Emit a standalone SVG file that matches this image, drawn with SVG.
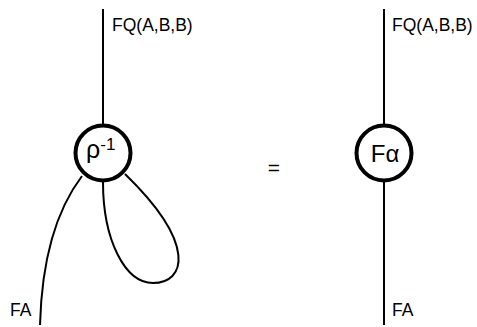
<svg xmlns="http://www.w3.org/2000/svg" width="477" height="327" viewBox="0 0 477 327">
<style>
.w{fill:none;stroke:#000;stroke-width:2}
.n{fill:#fff;stroke:#000;stroke-width:4}
text{font-family:"Liberation Sans",Arial,sans-serif;fill:#000}
.lbl{font-size:17.5px}
.in{font-size:24px}
</style>
<rect width="477" height="327" fill="#fff"/>
<g id="connectors">
<line class="w" x1="103" y1="9" x2="103" y2="126"/>
<path class="w" d="M 82 176 C 60 205, 42 250, 40 325"/>
<path class="w" d="M 103 182 C 103 240, 125 283, 153 283 C 185 283, 198 245, 125 174"/>
<line class="w" x1="384" y1="9" x2="384" y2="325"/>
</g>
<g id="labels">
<text class="lbl" x="112" y="31">FQ(A,B,B)</text>
<text class="lbl" x="10" y="316">FA</text>
<text class="lbl" x="392" y="31">FQ(A,B,B)</text>
<text class="lbl" x="392" y="316">FA</text>
<text x="274" y="175" font-size="21" text-anchor="middle" fill="#333">=</text>
</g>
<g id="rho-inv">
<circle class="n" cx="103" cy="153" r="27.5"/>
<text x="86" y="158" font-size="25">ρ<tspan font-size="17" dy="-8">-1</tspan></text>
</g>
<g id="F-alpha">
<circle class="n" cx="384" cy="153" r="27.5"/>
<text class="in" x="385" y="162" text-anchor="middle">Fα</text>
</g>
</svg>
